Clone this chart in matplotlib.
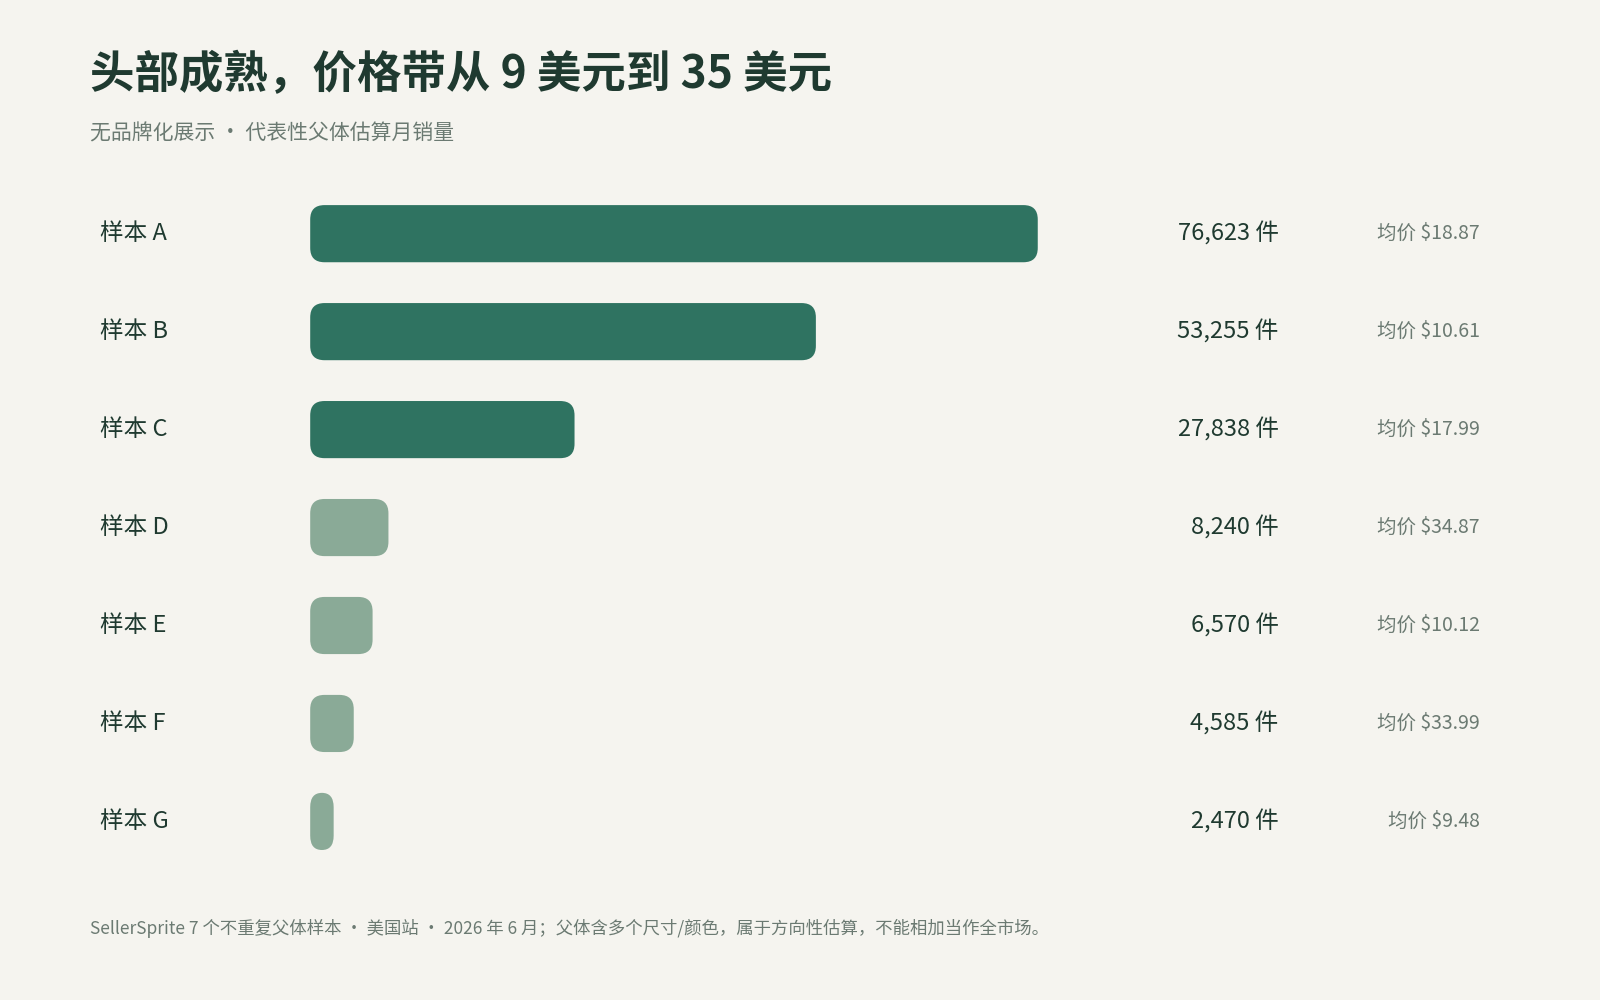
import matplotlib
matplotlib.use("Agg")
import matplotlib.pyplot as plt
from matplotlib.patches import FancyBboxPatch

plt.rcParams['font.family'] = ['Noto Sans CJK SC', 'DejaVu Sans']

labels = ["样本 A", "样本 B", "样本 C", "样本 D", "样本 E", "样本 F", "样本 G"]
sales = [76623, 53255, 27838, 8240, 6570, 4585, 2470]
prices = [18.87, 10.61, 17.99, 34.87, 10.12, 33.99, 9.48]
title = "头部成熟，价格带从 9 美元到 35 美元"
subtitle = "无品牌化展示 · 代表性父体估算月销量"
footer = "SellerSprite 7 个不重复父体样本 · 美国站 · 2026 年 6 月；父体含多个尺寸/颜色，属于方向性估算，不能相加当作全市场。"

W, H = 1568, 980
bg = "#f5f4ef"
dark = "#2f7361"
light = "#8aaa97"
ink = "#1f3a30"

fig = plt.figure(figsize=(16, 10), dpi=100, facecolor=bg)
def fx(x): return x / W
def fy(y): return 1 - y / H

fig.text(fx(88), fy(74), title, fontsize=32, fontweight='bold', color=ink, va='center', ha='left')
fig.text(fx(88), fy(131), subtitle, fontsize=15, color="#6b7a72", va='center', ha='left')
fig.text(fx(88), fy(910), footer, fontsize=12.5, color="#6b7a72", va='center', ha='left')

ax = fig.add_axes([fx(304), fy(853), (1017 - 304) / W, (853 - 181) / H])
ax.set_facecolor(bg)
xmax = 76623
ax.set_xlim(0, xmax)
ax.set_ylim(len(labels) - 0.5, -0.5)
ax.axis('off')

px_x = xmax / 713.0
bh = 56 / 96.0
ry = 14 / 96.0
for i, (lab, s, p) in enumerate(zip(labels, sales, prices)):
    col = dark if i < 3 else light
    rx = min(14 * px_x, s / 2)
    patch = FancyBboxPatch((0, i - bh / 2), s, bh,
                           boxstyle=f"round,pad=0,rounding_size={rx}",
                           mutation_aspect=ry / rx, facecolor=col, edgecolor='none', clip_on=False)
    ax.add_patch(patch)
    yy = fy(229 + 96 * i)
    fig.text(fx(98), yy, lab, fontsize=17, color=ink, va='center', ha='left')
    fig.text(fx(1253), yy, f"{s:,} 件", fontsize=17, color=ink, va='center', ha='right')
    fig.text(fx(1450), yy, f"均价 ${p:.2f}", fontsize=14, color="#6b7a72", va='center', ha='right')

fig.savefig("out.png", facecolor=bg)
